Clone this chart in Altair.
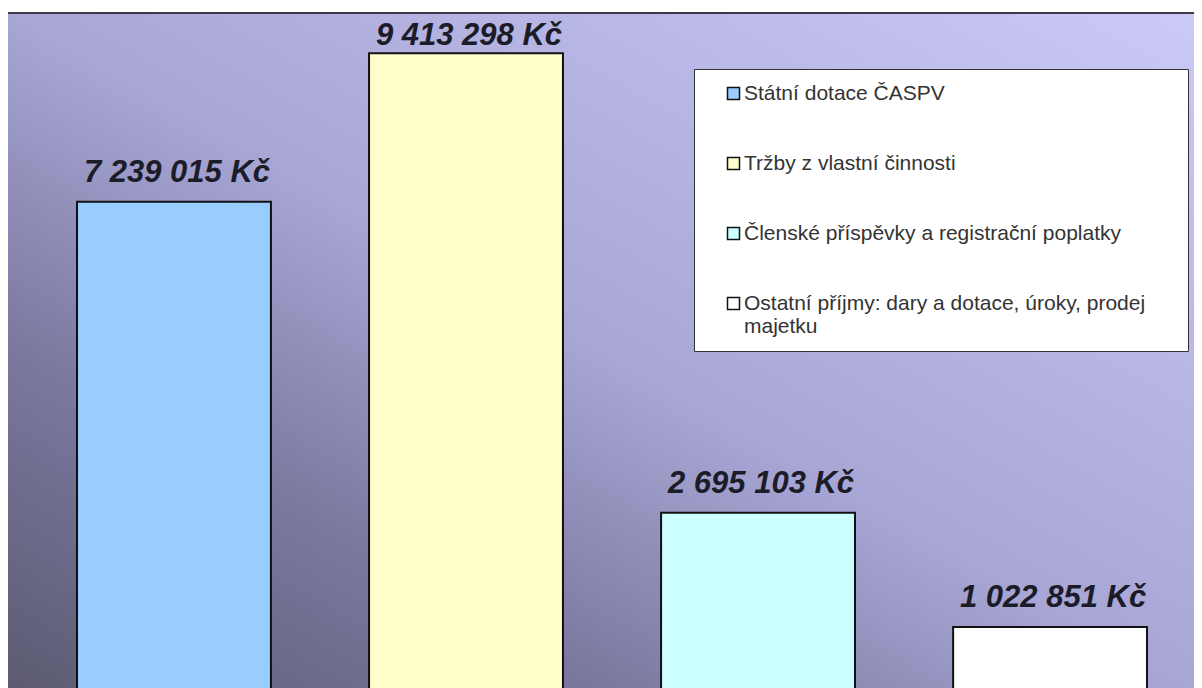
import altair as alt
import pandas as pd

categories = [
    "Státní dotace ČASPV",
    "Tržby z vlastní činnosti",
    "Členské příspěvky a registrační poplatky",
    "Ostatní příjmy: dary a dotace, úroky, prodej majetku",
]
values = [7239015, 9413298, 2695103, 1022851]
bar_colors = ["#99ccff", "#ffffcc", "#ccffff", "#ffffff"]
value_labels = ["7 239 015 Kč", "9 413 298 Kč", "2 695 103 Kč", "1 022 851 Kč"]

df = pd.DataFrame({"kategorie": categories, "hodnota": values, "popisek": value_labels})

W, H = 1186, 675
FONT = "Liberation Sans"

x_scale = alt.Scale(domain=categories, paddingInner=0.336, paddingOuter=0.1986, align=0.595)
y_scale = alt.Scale(domain=[131600, 10000000], nice=False, zero=False)

background = alt.Chart(df).mark_rect(
    fill=alt.Gradient(
        gradient="linear",
        x1=0, y1=1, x2=1, y2=0,
        stops=[
            alt.GradientStop(offset=0, color="#5c5b72"),
            alt.GradientStop(offset=0.25, color="#7a789e"),
            alt.GradientStop(offset=0.5, color="#a8a6d5"),
            alt.GradientStop(offset=1, color="#cac9f8"),
        ],
    )
).encode(x=alt.value(0), x2=alt.value(W), y=alt.value(0), y2=alt.value(H))

top_line = alt.Chart(df).mark_rule(color="#3a3a48", strokeWidth=1.5).encode(
    x=alt.value(0), x2=alt.value(W), y=alt.value(0)
)

label_expr = (
    "indexof(datum.label, ' prodej majetku') > 0 ? "
    "[replace(datum.label, ' majetku', ''), 'majetku'] : datum.label"
)

bars = alt.Chart(df).mark_bar(stroke="#111111", strokeWidth=2, clip=True).encode(
    x=alt.X("kategorie:N", scale=x_scale, sort=categories, axis=None),
    y=alt.Y("hodnota:Q", scale=y_scale, axis=None),
    y2=alt.datum(0),
    color=alt.Color(
        "kategorie:N",
        scale=alt.Scale(domain=categories, range=bar_colors),
        legend=alt.Legend(
            orient="none",
            legendX=686,
            legendY=56,
            title=".",
            titleColor="white",
            titleFontSize=2,
            titleOrient="right",
            titlePadding=28,
            fillColor="white",
            strokeColor="#333333",
            padding=14,
            symbolType="square",
            symbolSize=144,
            symbolStrokeColor="#111111",
            symbolStrokeWidth=1.5,
            symbolOffset=15,
            labelOffset=0,
            labelFont=FONT,
            labelFontSize=21,
            labelColor="#333333",
            labelLimit=700,
            rowPadding=48,
            labelExpr=label_expr,
        ),
    ),
)

texts = alt.Chart(df).transform_calculate(
    ypos="min(datum.hodnota + 292000, 9530000)"
).mark_text(
    font=FONT, fontSize=31, fontWeight="bold", fontStyle="italic",
    color="#1c1c28", baseline="alphabetic", align="center", dx=3,
).encode(
    x=alt.X("kategorie:N", scale=x_scale, sort=categories, axis=None),
    y=alt.Y("ypos:Q", scale=y_scale, axis=None),
    text="popisek:N",
)

chart = alt.layer(background, top_line, bars, texts).properties(
    width=W,
    height=H,
    padding={"left": 0, "top": 5, "right": 0, "bottom": 0},
    autosize=alt.AutoSizeParams(type="none"),
).configure_view(stroke=None)

chart.save("out.html", embed_options={"renderer": "svg", "actions": False})
